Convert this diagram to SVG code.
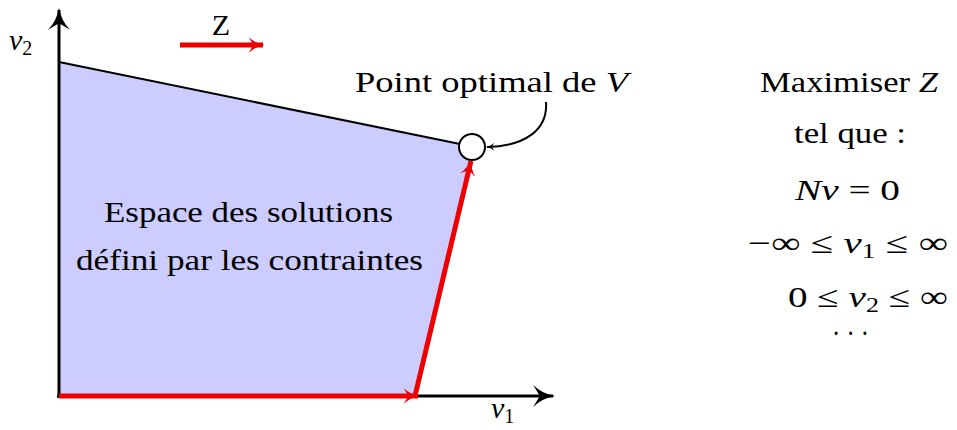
<svg xmlns="http://www.w3.org/2000/svg" width="957" height="430" viewBox="0 0 957 430">
<defs>
<style>
text{font-family:"Liberation Serif","DejaVu Serif",serif;font-size:30px;fill:#000}
.m{font-style:italic}
.c{text-anchor:middle}
.sub{font-size:20px;font-style:normal}
</style>
<marker id="ak" viewBox="0 0 10 10" refX="9" refY="5" markerWidth="9" markerHeight="8" orient="auto" markerUnits="userSpaceOnUse">
<path d="M0,0 Q4,4 10,5 Q4,6 0,10 L3,5 Z" fill="#000"/>
</marker>
<marker id="aK" viewBox="0 0 10 10" refX="9" refY="5" markerWidth="26" markerHeight="22" orient="auto" markerUnits="userSpaceOnUse">
<path d="M0,0 Q4,4 10,5 Q4,6 0,10 L3,5 Z" fill="#000"/>
</marker>
<marker id="ar" viewBox="0 0 10 10" refX="9" refY="5" markerWidth="24" markerHeight="16" orient="auto" markerUnits="userSpaceOnUse">
<path d="M0,0 Q4,4 10,5 Q4,6 0,10 L3,5 Z" fill="#e00"/>
</marker>
</defs>
<g id="region">
<polygon points="59,396 59,62 472,147 415,396" fill="#ccccff" stroke="none"/>
<line x1="59" y1="62" x2="460" y2="144" stroke="#000" stroke-width="2"/>
</g>
<g id="axes">
<line x1="59" y1="398" x2="59" y2="10" stroke="#000" stroke-width="3" marker-end="url(#aK)"/>
<line x1="57" y1="396" x2="553" y2="396" stroke="#000" stroke-width="3" marker-end="url(#aK)"/>
<text x="9" y="50" class="m">v<tspan class="sub" dy="5">2</tspan></text>
<text x="491" y="418" class="m">v<tspan class="sub" dy="5">1</tspan></text>
</g>
<g id="connectors">
<line x1="59" y1="396" x2="418" y2="396" stroke="#e00" stroke-width="5" marker-end="url(#ar)"/>
<line x1="415" y1="396" x2="471" y2="161" stroke="#e00" stroke-width="5" marker-end="url(#ar)"/>
<line x1="180" y1="45" x2="263" y2="45" stroke="#e00" stroke-width="5" marker-end="url(#ar)"/>
<path d="M546,102 C548,130 525,146 487,147" fill="none" stroke="#000" stroke-width="2" marker-end="url(#ak)"/>
</g>
<g id="optimal">
<circle cx="472" cy="147" r="13" fill="#fff" stroke="#000" stroke-width="2"/>
<text x="355" y="92" textLength="273" lengthAdjust="spacingAndGlyphs">Point optimal de <tspan class="m">V</tspan></text>
</g>
<g id="zlabel"><text x="221" y="35" class="c">Z</text></g>
<g id="space">
<text x="104" y="222" textLength="289" lengthAdjust="spacingAndGlyphs">Espace des solutions</text>
<text x="76" y="270" textLength="347" lengthAdjust="spacingAndGlyphs">défini par les contraintes</text>
</g>
<g id="problem">
<text x="760" y="92" textLength="178" lengthAdjust="spacingAndGlyphs">Maximiser <tspan class="m">Z</tspan></text>
<text x="794" y="143" textLength="112" lengthAdjust="spacingAndGlyphs">tel que :</text>
<text x="795" y="200" textLength="105" lengthAdjust="spacingAndGlyphs"><tspan class="m">Nv</tspan> = 0</text>
<text x="748" y="253" textLength="200" lengthAdjust="spacingAndGlyphs">−∞ ≤ <tspan class="m">v</tspan><tspan class="sub" dy="5">1</tspan><tspan dy="-5"> ≤ ∞</tspan></text>
<text x="788" y="307" textLength="160" lengthAdjust="spacingAndGlyphs">0 ≤ <tspan class="m">v</tspan><tspan class="sub" dy="5">2</tspan><tspan dy="-5"> ≤ ∞</tspan></text>
<text x="832" y="343" textLength="37" lengthAdjust="spacingAndGlyphs">· · ·</text>
</g>
</svg>
